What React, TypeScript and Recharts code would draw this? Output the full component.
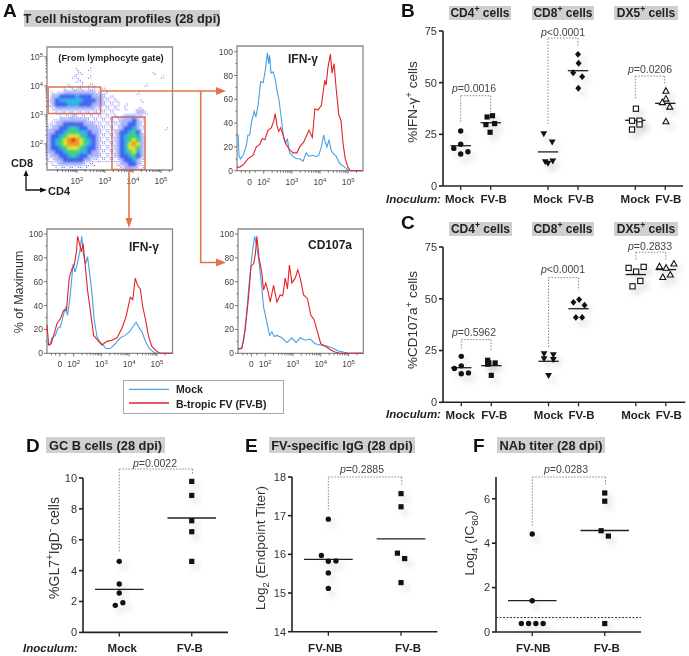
import React from "react";
import {
  LineChart,
  Line,
  ScatterChart,
  Scatter,
  XAxis,
  YAxis,
  ReferenceLine,
  ReferenceArea,
} from "recharts";

const FONT = '"Liberation Sans", Arial, sans-serif';
const ORANGE = "#e2744a";
const BLUE = "#4a9fe3";
const RED = "#e0232a";

// ---- panel A: histograms, x is the log10 channel ("0" sits at 1.5)
const topMockX = [1.05,1.09,1.12,1.17,1.27,1.38,1.44,1.5,1.56,1.66,1.72,1.8,1.89,1.98,2.06,2.13,2.18,2.21,2.26,2.33,2.4,2.47,2.54,2.63,2.71,2.78,2.84,2.92,3.04,3.16,3.28,3.4,3.51,3.61,3.73,3.87,3.96,4.05,4.13,4.2,4.25,4.32,4.4,4.49,4.58,4.7,4.82,4.93,5.03,5.53];
const topMockY = [30,30,13,10,13,21,30,30,40,50,45,55,75,74,85,99,90,97,82,83,78,68,60,43,27,23,27,15,12,10,10,8,15,12,13,12,13,20,30,23,20,26,17,14,12,6,4,2,0,0];
const topFvbX = [1.05,1.15,1.27,1.44,1.62,1.74,1.86,1.95,2.04,2.15,2.27,2.36,2.41,2.47,2.53,2.6,2.69,2.78,2.9,3.04,3.18,3.28,3.42,3.61,3.73,3.82,3.93,4.05,4.17,4.22,4.28,4.37,4.43,4.5,4.58,4.67,4.75,4.82,4.9,4.99,5.08,5.53];
const topFvbY = [3,3,5,10,13,20,22,27,26,34,36,42,48,38,33,36,30,23,18,15,15,20,24,34,28,52,51,55,76,72,86,98,82,90,68,47,42,23,10,3,0,0];
const leftMockX = [1.04,1.14,1.22,1.34,1.43,1.52,1.62,1.7,1.78,1.86,1.92,1.98,2.05,2.12,2.22,2.29,2.36,2.43,2.5,2.57,2.66,2.74,2.84,2.93,3.05,3.17,3.32,3.5,3.68,3.86,4.01,4.13,4.25,4.34,4.46,4.57,4.72,4.87,4.99,5.56];
const leftMockY = [8,7,13,15,21,22,31,38,32,45,60,75,68,74,85,98,82,75,81,68,50,28,14,10,7,4,4,8,13,15,18,22,26,22,18,11,4,1,0,0];
const leftFvbX = [1.04,1.1,1.19,1.28,1.4,1.52,1.64,1.74,1.84,1.94,2.02,2.1,2.14,2.22,2.28,2.34,2.42,2.5,2.6,2.72,2.86,3.02,3.2,3.38,3.56,3.74,3.89,4.04,4.13,4.22,4.3,4.4,4.49,4.59,4.69,4.81,4.93,5.09,5.56];
const leftFvbY = [24,7,8,15,25,29,36,36,63,71,74,85,98,91,85,92,73,53,36,15,11,7,10,11,13,21,31,47,45,63,57,54,39,28,15,6,3,0,0];
const rightMockX = [1.02,1.13,1.22,1.32,1.4,1.49,1.56,1.62,1.7,1.77,1.86,1.94,2.04,2.16,2.24,2.32,2.42,2.6,2.78,2.96,3.11,3.26,3.44,3.62,3.8,3.98,4.22,4.46,4.63,4.81,4.99,5.53];
const rightMockY = [3,4,10,31,53,75,89,98,89,78,59,39,28,15,18,14,15,13,9,13,9,13,11,12,8,7,6,4,2,1,0,0];
const rightFvbX = [1.02,1.16,1.28,1.4,1.49,1.58,1.64,1.7,1.77,1.88,1.94,2.02,2.1,2.18,2.3,2.42,2.54,2.63,2.72,2.8,2.87,2.96,3.08,3.17,3.26,3.38,3.52,3.64,3.76,3.88,4.0,4.16,4.34,4.51,4.69,5.53];
const rightFvbY = [4,4,20,47,73,75,82,98,81,67,53,59,52,43,57,43,49,48,63,54,74,59,63,70,63,49,46,32,28,18,8,6,3,1,0,0];

const histMajorX = [1.5, 2, 3, 4, 5];
const histMinorX = [1.2, 1.35, 1.7, 2.3, 2.48, 2.6, 2.7, 2.78, 2.85, 2.9, 2.95, 3.3, 3.48, 3.6, 3.7, 3.78, 3.85, 3.9, 3.95, 4.3, 4.48, 4.6, 4.7, 4.78, 4.85, 4.9, 4.95, 5.3];
const histMajorY = [0, 20, 40, 60, 80, 100];
const histMinorY = [10, 30, 50, 70, 90];

// ---- panel A: flow density, 4px cells, top row first
const flowDensity = [
  "0000000000000000000000000000000",
  "0000000000000000000000000000000",
  "0000000000000000000000000000000",
  "0000000000000000000000000000000",
  "0000000000000000000000000000000",
  "0000000100100000000000000000000",
  "0000000110000000000000000010000",
  "0000001100100000000000000000100",
  "0000000110000000000000000000000",
  "0000010010110000000000001000000",
  "0000101110110110000000000000000",
  "0111222222221110000000100000000",
  "0223333433322211100000000000000",
  "1234444443332211110000010000000",
  "1233344433322211110100000000000",
  "0122222222221111110100110000000",
  "0011111111111111100000221000000",
  "0001112111111111111222110000000",
  "0112222222111111112223210000000",
  "1122333332221111112233210000000",
  "1223345433222111112334210000010",
  "2233455544322111123345310000000",
  "2334566654332111123455420000000",
  "2345678765432111123456520000000",
  "2345677765432111123467620000000",
  "2334566654332111123466520000000",
  "2233455544322111123456420000000",
  "1223345433222111123345320000000",
  "1122333332211111112334210000000",
  "0112222221110000012233210000000",
  "0011111111000000001222110000000",
];
const flowColors = ["none", "#6a6af0", "#6a78f2", "#3f62ee", "#2fb0e6", "#3fd27a", "#dbe336", "#f2941f", "#e8321e"];
const flowMajor = [2, 3, 4, 5];
const flowMinorX = [1.3, 1.48, 1.6, 1.7, 1.78, 1.85, 1.9, 1.95, 2.3, 2.48, 2.6, 2.7, 2.78, 2.85, 2.9, 2.95, 3.3, 3.48, 3.6, 3.7, 3.78, 3.85, 3.9, 3.95, 4.3, 4.48, 4.6, 4.7, 4.78, 4.85, 4.9, 4.95, 5.3];
const flowMinorY = [1.3, 1.48, 1.6, 1.7, 1.78, 1.85, 1.9, 1.95, 2.3, 2.48, 2.6, 2.7, 2.78, 2.85, 2.9, 2.95, 3.3, 3.48, 3.6, 3.7, 3.78, 3.85, 3.9, 3.95, 4.3, 4.48, 4.6, 4.7, 4.78, 4.85, 4.9, 4.95];

// ---- panel B: %IFN-g+ cells
const bCenters = [1, 2, 3.91, 4.91, 6.82, 7.82];
const bCd4Mock = [[1, 26.6], [0.77, 18.2], [1, 20.2], [1, 15.5], [1.24, 16.6]];
const bCd4Fvb = [[1.88, 33.4], [2.06, 34], [1.84, 29.7], [2.13, 30.2], [1.98, 26]];
const bCd8Mock = [[3.77, 25], [4.05, 21], [3.91, 10.8], [4.07, 11.8], [3.82, 11.5]];
const bCd8Fvb = [[4.91, 63.7], [4.93, 59.4], [4.75, 54.8], [5.05, 52.9], [4.92, 47.3]];
const bDx5Mock = [[6.84, 37.4], [6.71, 31.6], [6.96, 31.6], [6.71, 27.3], [6.96, 29.8]];
const bDx5Fvb = [[7.84, 46.1], [7.84, 42.3], [7.72, 40.6], [7.97, 38.4], [7.84, 31.3]];
const bMeans = [19.5, 30.6, 16.5, 55.8, 31.8, 40];
// left x, left foot, top, right x, right foot
const bBrackets = [
  [1, 31.1, 43.7, 2, 35.2],
  [3.91, 30, 71.6, 4.91, 67.7],
  [6.82, 42.4, 53.2, 7.8, 48.9],
];

// ---- panel C: %CD107a+ cells
const cCd4Mock = [[1, 22.2], [0.77, 16.3], [1, 17.6], [1, 13.8], [1.24, 14.2]];
const cCd4Fvb = [[1.88, 20.3], [1.88, 18.4], [1.92, 19], [2.13, 19], [2, 13]];
const cCd8Mock = [[3.76, 23.2], [4.07, 22.7], [3.76, 20.8], [4.07, 20.4], [3.91, 12.7]];
const cCd8Fvb = [[4.93, 49.6], [4.74, 48.3], [5.11, 46.9], [4.82, 41], [5.03, 41]];
const cDx5Mock = [[6.58, 64.9], [7.08, 65.4], [6.83, 63.1], [6.97, 58.6], [6.71, 56]];
const cDx5Fvb = [[7.61, 65.7], [7.83, 65], [8.09, 67], [7.72, 60.5], [7.97, 61.7]];
const cMeans = [16.7, 17.7, 19.8, 45.2, 61.7, 64.1];
const cBrackets = [
  [1, 25.9, 30.3, 1.99, 24.8],
  [3.91, 26.7, 60.2, 4.91, 54.1],
  [6.82, 68.9, 72.5, 7.82, 69],
];

// ---- panels D, E, F
const twoCenters = [1, 2];
const dMock = [[1, 4.6], [1, 3.13], [1, 2.55], [0.945, 1.75], [1.05, 1.92]];
const dFvb = [[2, 9.78], [2, 8.87], [2, 7.23], [2, 6.52], [2, 4.6]];
const dMeans = [2.79, 7.41];
const dBracket = [[1, 5.25, 10.58, 2.01, 10.2]];
const eFvnb = [[1, 16.91], [0.904, 15.97], [1, 15.82], [1.105, 15.83], [1, 15.52], [1, 15.12]];
const eFvb = [[2, 17.57], [2, 17.23], [1.95, 16.03], [2.05, 15.89], [2, 15.27]];
const eMeans = [15.87, 16.4];
const eBracket = [[1, 17.16, 18, 2.01, 17.8]];
const fFvnb = [[1, 4.41], [1, 1.41], [0.85, 0.38], [0.95, 0.38], [1.05, 0.38], [1.15, 0.38]];
const fFvb = [[2, 6.26], [2, 5.89], [1.95, 4.56], [2.05, 4.32], [2, 0.38]];
const fMeans = [1.41, 4.57];
const fBracket = [[1, 4.78, 6.98, 2.01, 6.63]];
const fCutoff = 0.65;

const zip = (xs: number[], ys: number[]) => xs.map((x, i) => ({ x, y: ys[i] }));
const toPoints = (rows: number[][]) => rows.map(([x, y]) => ({ x, y }));

type Box = { l: number; t: number; r: number; b: number };

function frameProps(box: Box) {
  const yw = 30;
  const xh = 24;
  const pad = 14;
  return {
    width: box.r - box.l + yw + pad,
    height: box.b - box.t + pad + xh,
    margin: { top: pad, right: pad, left: 0, bottom: 0 },
    style: { position: "absolute" as const, left: box.l - yw, top: box.t - pad },
  };
}

function MarkerShape({ cx, cy, kind }: any) {
  const black = "#111";
  const shadow = { filter: "drop-shadow(4px 5px 3px rgba(0,0,0,0.16))" };
  const t = `translate(${cx},${cy})`;
  if (kind === "circle") return <circle cx={cx} cy={cy} r={2.7} fill={black} style={shadow} />;
  if (kind === "square") return <rect x={cx - 2.6} y={cy - 2.6} width={5.2} height={5.2} fill={black} style={shadow} />;
  if (kind === "down") return <path transform={t} d="M-3.4,-3 L3.4,-3 L0,3 Z" fill={black} style={shadow} />;
  if (kind === "diamond") return <path transform={t} d="M0,-3.4 L3,0 L0,3.4 L-3,0 Z" fill={black} style={shadow} />;
  if (kind === "openSquare") return <rect x={cx - 2.6} y={cy - 2.6} width={5.2} height={5.2} fill="#fff" stroke={black} strokeWidth={1.1} style={shadow} />;
  return <path transform={t} d="M0,-3 L3,2.5 L-3,2.5 Z" fill="#fff" stroke={black} strokeWidth={1.1} style={shadow} />;
}

function CategoryTick({ x, y, index, labels, shifts, labelDrop }: any) {
  return (
    <g>
      <line x1={x} x2={x} y1={y} y2={y + 4} stroke="#222" strokeWidth={1.3} />
      <text x={x + (shifts ? shifts[index] : 0)} y={y + labelDrop} textAnchor="middle" fontFamily={FONT} fontWeight="bold" fontSize={11.5} fill="#222">
        {labels[index]}
      </text>
    </g>
  );
}

function DotPanel({ box, xDomain, yDomain, yTicks, centers, labels, shifts, labelDrop = 17, series, means, halfWidth, brackets, cutoff }: any) {
  return (
    <ScatterChart {...frameProps(box)}>
      <XAxis
        type="number"
        dataKey="x"
        domain={xDomain}
        ticks={centers}
        interval={0}
        stroke="#222"
        strokeWidth={1.6}
        height={24}
        tickSize={0}
        tickMargin={0}
        tickLine={false}
        tick={(p: any) => <CategoryTick {...p} labels={labels} shifts={shifts} labelDrop={labelDrop} />}
      />
      <YAxis
        type="number"
        dataKey="y"
        domain={yDomain}
        ticks={yTicks}
        interval={0}
        width={30}
        stroke="#222"
        strokeWidth={1.6}
        tickSize={4}
        tickMargin={2}
        tick={{ fontSize: 11, fontFamily: FONT, fill: "#333" }}
      />
      {brackets.flatMap(([x1, foot1, top, x2, foot2]: number[], i: number) => [
        <ReferenceLine key={`a${i}`} ifOverflow="visible" stroke="#888" strokeDasharray="1.5 1.5" segment={[{ x: x1, y: foot1 }, { x: x1, y: top }]} />,
        <ReferenceLine key={`b${i}`} ifOverflow="visible" stroke="#888" strokeDasharray="1.5 1.5" segment={[{ x: x1, y: top }, { x: x2, y: top }]} />,
        <ReferenceLine key={`c${i}`} ifOverflow="visible" stroke="#888" strokeDasharray="1.5 1.5" segment={[{ x: x2, y: top }, { x: x2, y: foot2 }]} />,
      ])}
      {cutoff !== undefined && <ReferenceLine y={cutoff} stroke="#333" strokeDasharray="2 1.5" />}
      {means.map((m: number, i: number) => (
        <ReferenceLine key={`m${i}`} ifOverflow="visible" stroke="#222" strokeWidth={1.3} segment={[{ x: centers[i] - halfWidth, y: m }, { x: centers[i] + halfWidth, y: m }]} />
      ))}
      {series.map(([rows, kind]: any, i: number) => (
        <Scatter key={i} data={toPoints(rows)} isAnimationActive={false} shape={(p: any) => <MarkerShape {...p} kind={kind} />} />
      ))}
    </ScatterChart>
  );
}

function LogTickX({ x, y, payload, major, zero }: any) {
  const isMajor = major.includes(payload.value);
  const isZero = zero && payload.value === 1.5;
  return (
    <g>
      <line x1={x} x2={x} y1={y} y2={y + (isMajor ? 3 : 2)} stroke="#555" strokeWidth={0.8} />
      {isMajor && (
        <text x={x} y={y + 14} textAnchor="middle" fontFamily={FONT} fontSize={8.5} fill="#444">
          {isZero ? "0" : "10"}
          {!isZero && <tspan dy={-3} fontSize={6}>{payload.value}</tspan>}
        </text>
      )}
    </g>
  );
}

function LogTickY({ x, y, payload, major, power }: any) {
  const isMajor = major.includes(payload.value);
  return (
    <g>
      <line x1={x - (isMajor ? 3 : 1.5)} x2={x} y1={y} y2={y} stroke="#555" strokeWidth={0.8} />
      {isMajor && (
        <text x={x - 4} y={y + 3} textAnchor="end" fontFamily={FONT} fontSize={8.5} fill="#444">
          {power ? "10" : payload.value}
          {power && <tspan dy={-3} fontSize={6}>{payload.value}</tspan>}
        </text>
      )}
    </g>
  );
}

function Histogram({ box, xDomain, yMax, mock, fvb }: any) {
  return (
    <LineChart {...frameProps(box)}>
      <XAxis type="number" dataKey="x" domain={xDomain} ticks={[...histMajorX, ...histMinorX]} interval={0} height={24} axisLine={false} tickLine={false} tickSize={0} tickMargin={0}
        tick={(p: any) => <LogTickX {...p} major={histMajorX} zero />} />
      <YAxis type="number" domain={[0, yMax]} ticks={[...histMajorY, ...histMinorY]} interval={0} width={30} axisLine={false} tickLine={false} tickSize={0} tickMargin={0}
        tick={(p: any) => <LogTickY {...p} major={histMajorY} />} />
      <ReferenceArea x1={xDomain[0]} x2={xDomain[1]} y1={0} y2={yMax} fill="none" stroke="#8c8c8c" strokeWidth={1.3} />
      <Line data={mock} dataKey="y" type="linear" dot={false} stroke={BLUE} strokeWidth={1.1} isAnimationActive={false} />
      <Line data={fvb} dataKey="y" type="linear" dot={false} stroke={RED} strokeWidth={1.1} isAnimationActive={false} />
    </LineChart>
  );
}

const flowBox: Box = { l: 47, t: 47, r: 172.5, b: 170 };
const flowX = [0.93, 5.41];
const flowY = [1.1, 5.34];

function DensityCell({ cx, cy, level, col }: any) {
  if (level === 1) {
    const off = col % 2 === 0 ? 1 : -1;
    return (
      <g fill={flowColors[1]}>
        <rect x={cx - 1.5} y={cy - off} width={1} height={1} />
        <rect x={cx + 0.5} y={cy + off} width={1} height={1} />
        <rect x={cx - off} y={cy + 1} width={1} height={1} opacity={0.6} />
      </g>
    );
  }
  return <rect x={cx - 2.2} y={cy - 2.2} width={4.4} height={4.4} fill={flowColors[level]} opacity={level === 2 ? 0.5 : 1} />;
}

function FlowPlot() {
  const stepX = (flowX[1] - flowX[0]) / flowDensity[0].length;
  const stepY = (flowY[1] - flowY[0]) / flowDensity.length;
  const cells: any[] = [];
  flowDensity.forEach((row, j) =>
    row.split("").forEach((c, i) => {
      if (c !== "0") {
        cells.push({ x: flowX[0] + (i + 0.5) * stepX, y: flowY[1] - (j + 0.5) * stepY, level: Number(c), col: i + j });
      }
    })
  );
  const cellShape = (p: any) => <DensityCell {...p} level={p.level ?? p.payload?.level} col={p.col ?? p.payload?.col} />;
  return (
    <ScatterChart {...frameProps(flowBox)}>
      <XAxis type="number" dataKey="x" domain={flowX} ticks={[...flowMajor, ...flowMinorX]} interval={0} height={24} axisLine={false} tickLine={false} tickSize={0} tickMargin={0}
        tick={(p: any) => <LogTickX {...p} major={flowMajor} />} />
      <YAxis type="number" dataKey="y" domain={flowY} ticks={[...flowMajor, ...flowMinorY]} interval={0} width={30} axisLine={false} tickLine={false} tickSize={0} tickMargin={0}
        tick={(p: any) => <LogTickY {...p} major={flowMajor} power />} />
      <Scatter data={cells.filter((c) => c.level === 1)} isAnimationActive={false} shape={cellShape} />
      <Scatter className="flow-density" data={cells.filter((c) => c.level > 1)} isAnimationActive={false} shape={cellShape} />
      <ReferenceArea x1={flowX[0]} x2={flowX[1]} y1={flowY[0]} y2={flowY[1]} fill="none" stroke="#8c8c8c" strokeWidth={1.3} ifOverflow="visible" />
      <ReferenceArea x1={0.97} x2={2.84} y1={3.05} y2={3.96} fill="none" stroke={ORANGE} strokeWidth={1.5} />
      <ReferenceArea x1={3.25} x2={4.43} y1={1.12} y2={2.93} fill="none" stroke={ORANGE} strokeWidth={1.5} />
    </ScatterChart>
  );
}

function At({ x, y, w, h, bg, size = 12, bold = true, italic, color = "#222", anchor = "center", children }: any) {
  const tx = anchor === "center" ? "translate(-50%,-50%)" : "translateY(-50%)";
  if (bg) {
    return (
      <div style={{ position: "absolute", left: x, top: y, width: w, height: h, background: "#cfcfcf", display: "flex", alignItems: "center", justifyContent: "center", fontFamily: FONT, fontWeight: "bold", fontSize: size, color, whiteSpace: "nowrap" }}>
        <span>{children}</span>
      </div>
    );
  }
  return (
    <div style={{ position: "absolute", left: x, top: y, transform: tx, fontFamily: FONT, fontWeight: bold ? "bold" : "normal", fontStyle: italic ? "italic" : "normal", fontSize: size, color, whiteSpace: "nowrap", lineHeight: 1 }}>
      {children}
    </div>
  );
}

function Turned({ x, y, size = 13.5, children }: any) {
  return (
    <div style={{ position: "absolute", left: x, top: y, transform: "translate(-50%,-50%) rotate(-90deg)", fontFamily: FONT, fontSize: size, color: "#333", whiteSpace: "nowrap", lineHeight: 1 }}>
      {children}
    </div>
  );
}

const Sup = ({ children }: any) => <sup style={{ fontSize: "0.72em", verticalAlign: "super", lineHeight: 0 }}>{children}</sup>;
const Sub = ({ children }: any) => <sub style={{ fontSize: "0.72em", verticalAlign: "sub", lineHeight: 0 }}>{children}</sub>;
const P = ({ x, y, text }: any) => (
  <At x={x} y={y} size={10.5} bold={false} color="#444">
    <i>p</i>
    {text}
  </At>
);

function Arrows() {
  return (
    <svg width={689} height={656} style={{ position: "absolute", left: 0, top: 0, pointerEvents: "none" }}>
      <g stroke={ORANGE} strokeWidth={1.6} fill="none">
        <polyline points="100,91 219,91" />
        <polyline points="200.7,91 200.7,262.5 219,262.5" />
        <polyline points="129,170 129,222" />
      </g>
      <g fill={ORANGE}>
        <path d="M226,91 L216,87 L216,95 Z" />
        <path d="M226,262.5 L216,258.5 L216,266.5 Z" />
        <path d="M129,228 L125.5,218 L132.5,218 Z" />
      </g>
      <g stroke="#111" strokeWidth={1.3} fill="none">
        <polyline points="26,174 26,190 41,190" />
      </g>
      <g fill="#111">
        <path d="M26,170 L23.5,176 L28.5,176 Z" />
        <path d="M47,190 L40,187.5 L40,192.5 Z" />
      </g>
      {/* legend box and keys */}
      <rect x={123.5} y={380.5} width={160} height={33} fill="#fff" stroke="#a8a8a8" strokeWidth={1} />
      <line x1={129} x2={169} y1={389.3} y2={389.3} stroke={BLUE} strokeWidth={1.3} />
      <line x1={129} x2={169} y1={403} y2={403} stroke={RED} strokeWidth={1.3} />
    </svg>
  );
}

const bcLabels = ["Mock", "FV-B", "Mock", "FV-B", "Mock", "FV-B"];

export default function App() {
  return (
    <div style={{ position: "absolute", left: 0, top: 0, width: 689, height: 656, background: "#fff", overflow: "hidden", filter: "blur(0.35px)" }}>
      <style>{".flow-density{filter:blur(1px)}"}</style>

      {/* A */}
      <At x={3} y={10} size={19} anchor="left" color="#111">A</At>
      <At bg x={24} y={10} w={196} h={17} size={12.8}>T cell histogram profiles (28 dpi)</At>
      <FlowPlot />
      <At x={111} y={59} size={9.3}>(From lymphocyte gate)</At>
      <At x={22} y={163} size={11}>CD8</At>
      <At x={59} y={191} size={11}>CD4</At>
      <Histogram box={{ l: 237.3, t: 46, r: 363.3, b: 170.7 }} xDomain={[1.05, 5.53]} yMax={104.8} mock={zip(topMockX, topMockY)} fvb={zip(topFvbX, topFvbY)} />
      <At x={303} y={59} size={12}>IFN-γ</At>
      <Histogram box={{ l: 47, t: 229, r: 172.5, b: 353.3 }} xDomain={[1.04, 5.56]} yMax={104.2} mock={zip(leftMockX, leftMockY)} fvb={zip(leftFvbX, leftFvbY)} />
      <At x={144} y={247} size={12}>IFN-γ</At>
      <Histogram box={{ l: 238, t: 229, r: 363.3, b: 353.3 }} xDomain={[1.02, 5.53]} yMax={104.2} mock={zip(rightMockX, rightMockY)} fvb={zip(rightFvbX, rightFvbY)} />
      <At x={330} y={245} size={12}>CD107a</At>
      <Turned x={19} y={292} size={12.5}>% of Maximum</Turned>
      <Arrows />

      {/* legend */}
      <At x={176} y={389} size={10.5} anchor="left">Mock</At>
      <At x={176} y={404} size={10.5} anchor="left">B-tropic FV (FV-B)</At>

      {/* B */}
      <At x={401} y={10} size={19} anchor="left" color="#111">B</At>
      <At bg x={449} y={6} w={62} h={14}>CD4<Sup>+</Sup> cells</At>
      <At bg x={532} y={6} w={62} h={14}>CD8<Sup>+</Sup> cells</At>
      <At bg x={614} y={6} w={64} h={14}>DX5<Sup>+</Sup> cells</At>
      <DotPanel
        box={{ l: 442.7, t: 31, r: 682.7, b: 186 }}
        xDomain={[0.41, 8.41]}
        yDomain={[0, 75]}
        yTicks={[0, 25, 50, 75]}
        centers={bCenters}
        labels={bcLabels}
        shifts={[-1, 3, 0, 3, 0, 3]}
        means={bMeans}
        halfWidth={0.34}
        brackets={bBrackets}
        series={[[bCd4Mock, "circle"], [bCd4Fvb, "square"], [bCd8Mock, "down"], [bCd8Fvb, "diamond"], [bDx5Mock, "openSquare"], [bDx5Fvb, "openUp"]]}
      />
      <Turned x={413} y={102}>%IFN-γ<Sup>+</Sup> cells</Turned>
      <At x={386} y={200} size={11.5} italic anchor="left">Inoculum:</At>
      <P x={474} y={88} text="=0.0016" />
      <P x={563} y={32} text="<0.0001" />
      <P x={650} y={69} text="=0.0206" />

      {/* C */}
      <At x={401} y={222} size={19} anchor="left" color="#111">C</At>
      <At bg x={449} y={222} w={63} h={14}>CD4<Sup>+</Sup> cells</At>
      <At bg x={532} y={222} w={62} h={14}>CD8<Sup>+</Sup> cells</At>
      <At bg x={614} y={222} w={64} h={14}>DX5<Sup>+</Sup> cells</At>
      <DotPanel
        box={{ l: 442.7, t: 246.7, r: 685, b: 402 }}
        xDomain={[0.39, 8.47]}
        yDomain={[0, 75]}
        yTicks={[0, 25, 50, 75]}
        centers={bCenters}
        labels={bcLabels}
        shifts={[-1, 3, 0, 3, 0, 3]}
        labelDrop={16.5}
        means={cMeans}
        halfWidth={0.34}
        brackets={cBrackets}
        series={[[cCd4Mock, "circle"], [cCd4Fvb, "square"], [cCd8Mock, "down"], [cCd8Fvb, "diamond"], [cDx5Mock, "openSquare"], [cDx5Fvb, "openUp"]]}
      />
      <Turned x={413} y={320}>%CD107a<Sup>+</Sup> cells</Turned>
      <At x={386} y={415} size={11.5} italic anchor="left">Inoculum:</At>
      <P x={474} y={332} text="=0.5962" />
      <P x={563} y={269} text="<0.0001" />
      <P x={650} y={246} text="=0.2833" />

      {/* D */}
      <At x={26} y={445} size={19} anchor="left" color="#111">D</At>
      <At bg x={46} y={437} w={119} h={16} size={12.8}>GC B cells (28 dpi)</At>
      <DotPanel
        box={{ l: 83, t: 478.3, r: 228, b: 632.7 }}
        xDomain={[0.5, 2.5]}
        yDomain={[0, 10]}
        yTicks={[0, 2, 4, 6, 8, 10]}
        centers={twoCenters}
        labels={["Mock", "FV-B"]}
        shifts={[3, -2]}
        labelDrop={19.5}
        means={dMeans}
        halfWidth={0.335}
        brackets={dBracket}
        series={[[dMock, "circle"], [dFvb, "square"]]}
      />
      <Turned x={54} y={548} size={14}>%GL7<Sup>+</Sup>IgD<Sup>-</Sup> cells</Turned>
      <At x={23} y={649} size={11.5} italic anchor="left">Inoculum:</At>
      <P x={155} y={463} text="=0.0022" />

      {/* E */}
      <At x={245} y={445} size={19} anchor="left" color="#111">E</At>
      <At bg x={269} y={437} w={146} h={16} size={12.8}>FV-specific IgG (28 dpi)</At>
      <DotPanel
        box={{ l: 292.3, t: 477.3, r: 437.7, b: 632 }}
        xDomain={[0.5, 2.5]}
        yDomain={[14, 18]}
        yTicks={[14, 15, 16, 17, 18]}
        centers={twoCenters}
        labels={["FV-NB", "FV-B"]}
        shifts={[-3, 7]}
        labelDrop={20}
        means={eMeans}
        halfWidth={0.335}
        brackets={eBracket}
        series={[[eFvnb, "circle"], [eFvb, "square"]]}
      />
      <Turned x={261} y={548}>Log<Sub>2</Sub> (Endpoint Titer)</Turned>
      <P x={362} y={469} text="=0.2885" />

      {/* F */}
      <At x={473} y={445} size={19} anchor="left" color="#111">F</At>
      <At bg x={497} y={437} w={108} h={16} size={12.8}>NAb titer (28 dpi)</At>
      <DotPanel
        box={{ l: 496, t: 477, r: 641, b: 632 }}
        xDomain={[0.5, 2.5]}
        yDomain={[0, 6.98]}
        yTicks={[0, 2, 4, 6]}
        centers={twoCenters}
        labels={["FV-NB", "FV-B"]}
        shifts={[1, 2]}
        labelDrop={20}
        means={fMeans}
        halfWidth={0.335}
        brackets={fBracket}
        cutoff={fCutoff}
        series={[[fFvnb, "circle"], [fFvb, "square"]]}
      />
      <Turned x={470} y={543}>Log<Sub>4</Sub> (IC<Sub>80</Sub>)</Turned>
      <P x={566} y={469} text="=0.0283" />
    </div>
  );
}
